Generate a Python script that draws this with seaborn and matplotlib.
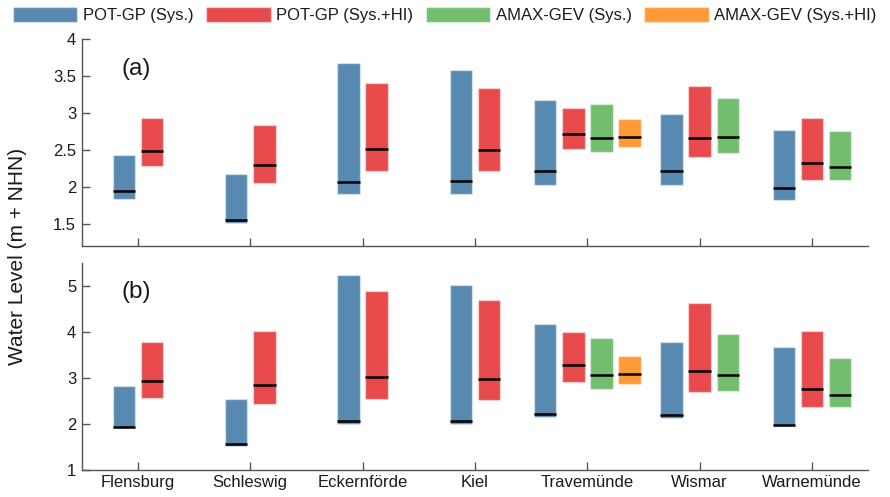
"""
Return-level ranges per station for two return periods, panel (a) and (b).
"""
import numpy as np
import matplotlib
matplotlib.use("Agg")
import matplotlib.pyplot as plt
from matplotlib.patches import Patch
from matplotlib.ticker import FuncFormatter
import seaborn as sns

STATIONS = ["Flensburg", "Schleswig", "Eckernförde", "Kiel", "Travemünde", "Wismar", "Warnemünde"]
AMAX_STATIONS = ["Travemünde", "Wismar", "Warnemünde"]
AMAX_HI_STATIONS = ["Travemünde"]
LABELS = ["POT-GP (Sys.)", "POT-GP (Sys.+HI)", "AMAX-GEV (Sys.)", "AMAX-GEV (Sys.+HI)"]
COLORS = ["#5889B1", "#E8494B", "#73BE6E", "#FF9A36"]

# panel (a)
pot_sys_a_low = [1.84, 1.51, 1.90, 1.90, 2.03, 2.03, 1.82]
pot_sys_a_high = [2.44, 2.18, 3.68, 3.58, 3.18, 2.99, 2.77]
pot_sys_a_best = [1.95, 1.56, 2.07, 2.08, 2.22, 2.21, 1.99]
pot_hi_a_low = [2.28, 2.06, 2.22, 2.21, 2.52, 2.40, 2.09]
pot_hi_a_high = [2.93, 2.84, 3.41, 3.34, 3.07, 3.37, 2.93]
pot_hi_a_best = [2.49, 2.30, 2.52, 2.50, 2.72, 2.66, 2.32]
amax_sys_a_low = [2.47, 2.46, 2.10]
amax_sys_a_high = [3.13, 3.20, 2.76]
amax_sys_a_best = [2.67, 2.68, 2.27]
amax_hi_a_low = [2.54]
amax_hi_a_high = [2.92]
amax_hi_a_best = [2.68]

# panel (b)
pot_sys_b_low = [1.90, 1.52, 2.00, 2.00, 2.15, 2.13, 1.95]
pot_sys_b_high = [2.82, 2.53, 5.23, 5.02, 4.16, 3.77, 3.66]
pot_sys_b_best = [1.94, 1.56, 2.06, 2.07, 2.21, 2.20, 1.98]
pot_hi_b_low = [2.57, 2.42, 2.54, 2.51, 2.91, 2.69, 2.37]
pot_hi_b_high = [3.77, 4.02, 4.88, 4.70, 4.00, 4.62, 4.01]
pot_hi_b_best = [2.93, 2.85, 3.02, 2.98, 3.28, 3.14, 2.76]
amax_sys_b_low = [2.76, 2.72, 2.36]
amax_sys_b_high = [3.86, 3.96, 3.44]
amax_sys_b_best = [3.07, 3.07, 2.62]
amax_hi_b_low = [2.86]
amax_hi_b_high = [3.48]
amax_hi_b_best = [3.09]

PANELS = [
    ("(a)", [
        (STATIONS, pot_sys_a_low, pot_sys_a_high, pot_sys_a_best),
        (STATIONS, pot_hi_a_low, pot_hi_a_high, pot_hi_a_best),
        (AMAX_STATIONS, amax_sys_a_low, amax_sys_a_high, amax_sys_a_best),
        (AMAX_HI_STATIONS, amax_hi_a_low, amax_hi_a_high, amax_hi_a_best),
    ], (1.2, 4.0), [1.5, 2, 2.5, 3, 3.5, 4]),
    ("(b)", [
        (STATIONS, pot_sys_b_low, pot_sys_b_high, pot_sys_b_best),
        (STATIONS, pot_hi_b_low, pot_hi_b_high, pot_hi_b_best),
        (AMAX_STATIONS, amax_sys_b_low, amax_sys_b_high, amax_sys_b_best),
        (AMAX_HI_STATIONS, amax_hi_b_low, amax_hi_b_high, amax_hi_b_best),
    ], (1.0, 5.5), [1, 2, 3, 4, 5]),
]

BAR_W = 0.2
STEP = 0.25
EDGE = (1, 1, 1, 0.45)
SPINE = "#555555"

sns.set_theme(style="ticks")
plt.rcParams["font.family"] = ["Liberation Sans", "DejaVu Sans"]
plt.rcParams["text.color"] = "#1a1a1a"
plt.rcParams["xtick.color"] = SPINE
plt.rcParams["ytick.color"] = SPINE
plt.rcParams["xtick.labelcolor"] = "#1a1a1a"
plt.rcParams["ytick.labelcolor"] = "#1a1a1a"


def bar_positions(series):
    """Centre the bars of each station group around its tick."""
    counts = {s: 0 for s in STATIONS}
    for st, *_ in series:
        for s in st:
            counts[s] += 1
    slot = {s: 0 for s in STATIONS}
    out = []
    for st, *_ in series:
        xs = []
        for s in st:
            i = STATIONS.index(s) + 1
            xs.append(i + (slot[s] - (counts[s] - 1) / 2) * STEP)
            slot[s] += 1
        out.append(np.array(xs))
    return out


fig, axes = plt.subplots(2, 1, figsize=(8.9, 4.97), dpi=100, sharex=True)
fig.subplots_adjust(left=0.0918, right=0.9756, top=0.921, bottom=0.0549, hspace=0.081)

for ax, (tag, series, ylim, yticks) in zip(axes, PANELS):
    for (st, lo, hi, best), xs, color in zip(series, bar_positions(series), COLORS):
        lo, hi, best = np.array(lo), np.array(hi), np.array(best)
        native = np.diff(np.unique(xs)).min() if len(xs) > 1 else 1.0
        sns.barplot(x=xs, y=hi - lo, bottom=lo, native_scale=True, orient="x",
                    width=BAR_W / native, color=color, saturation=1, errorbar=None,
                    edgecolor=EDGE, linewidth=1, ax=ax)
        ax.hlines(best, xs - BAR_W / 2, xs + BAR_W / 2, color="black", linewidth=1.8, zorder=3)
    ax.set_ylim(*ylim)
    ax.set_yticks(yticks)
    ax.yaxis.set_major_formatter(FuncFormatter(lambda v, p: f"{v:g}"))
    ax.set_xlim(0.5, 7.5)
    ax.set_xticks(range(1, len(STATIONS) + 1))
    ax.set_xticklabels(STATIONS)
    ax.set_ylabel("")
    ax.set_xlabel("")
    ax.tick_params(direction="in", length=5.5, width=1, labelsize=12, pad=4)
    for sp in ["left", "bottom"]:
        ax.spines[sp].set_color(SPINE)
        ax.spines[sp].set_linewidth(1)
    ax.text(0.05, 0.857, tag, transform=ax.transAxes, fontsize=17.5, ha="left", va="center")

sns.despine(fig=fig)

fig.text(18 / 890, 1 - 256 / 497, "Water Level (m + NHN)", rotation=90,
         ha="center", va="center", fontsize=15)

handles = [Patch(facecolor=c, edgecolor=EDGE, linewidth=1) for c in COLORS]
fig.legend(handles, LABELS, loc="center", bbox_to_anchor=(0.5, 1 - 15.3 / 497), ncol=4,
           frameon=False, fontsize=12, handlelength=3.85, handleheight=0.96,
           handletextpad=0.35, columnspacing=0.75, borderpad=0, borderaxespad=0)

plt.savefig("out.png", dpi=100)
plt.close()
